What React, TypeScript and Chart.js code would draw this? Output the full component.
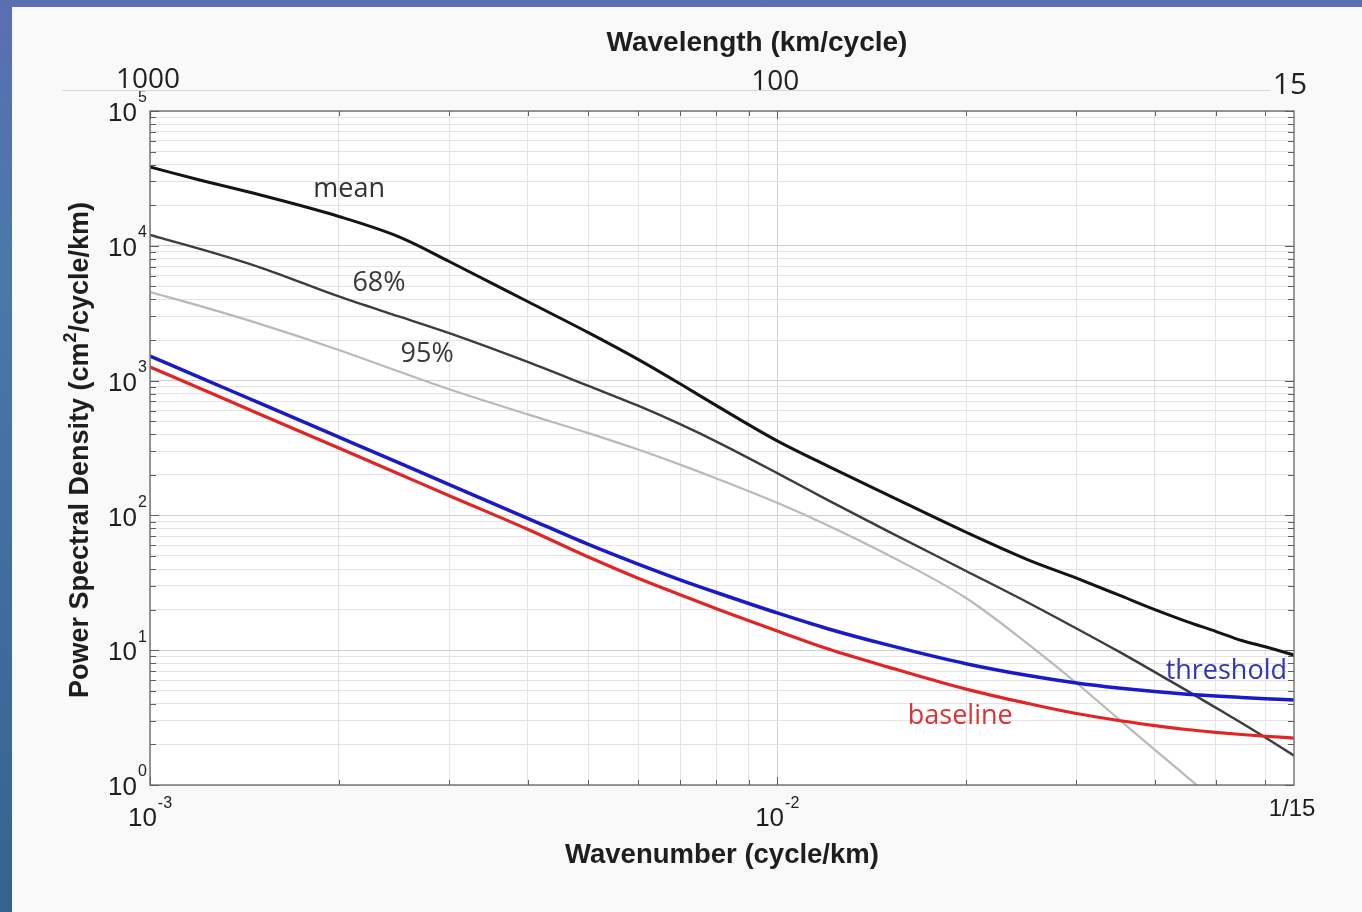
import React, { useEffect, useRef } from "react";
import { Chart, registerables } from "chart.js";

Chart.register(...registerables);

const W = 1362;
const H = 912;

// ---- data ----
const wavenumbers = [
  0.001, 0.0012, 0.0015, 0.002, 0.0025, 0.003, 0.004, 0.005, 0.006, 0.007, 0.008, 0.01,
  0.012, 0.015, 0.02, 0.025, 0.03, 0.035, 0.04, 0.045, 0.05, 0.055, 0.06, 0.06667,
];
const meanPSD = [
  38400, 30800, 23800, 16500, 11600, 7650, 3860, 2270, 1437, 947, 652, 357,
  234, 142, 75, 47.2, 34.2, 25.7, 20.0, 16.3, 13.8, 11.8, 10.6, 9.2,
];
const pct68PSD = [
  12030, 9500, 6900, 4210, 2980, 2250, 1376, 913, 651, 475, 353, 206,
  131, 76.5, 38.7, 22.8, 14.5, 9.8, 6.88, 5.01, 3.75, 2.88, 2.25, 1.65,
];
const pct95PSD = [
  4540, 3583, 2625, 1689, 1162, 863, 562, 408, 308, 238, 188, 124,
  84.9, 51.0, 24.4, 11.3, 5.71, 3.09, 1.82, 1.15, 0.761, 0.523, 0.371, 0.242,
];
const thresholdPSD = [
  1522, 1058, 677, 381, 244, 169, 95.2, 60.9, 43.5, 33.3, 26.8, 18.9,
  14.5, 10.95, 7.94, 6.51, 5.71, 5.24, 4.93, 4.72, 4.57, 4.46, 4.37, 4.27,
];
const baselinePSD = [
  1262, 877, 561, 316, 202, 140, 78.9, 49.1, 34.2, 25.8, 20.3, 13.9,
  10.3, 7.52, 5.14, 4.04, 3.39, 3.01, 2.76, 2.58, 2.46, 2.37, 2.30, 2.23,
];

const xMin = 0.001;
const xMax = 1 / 15;
const yMin = 1;
const yMax = 100000;
const yTickExponents = [0, 1, 2, 3, 4, 5];
const xTickExponents = [-3, -2];
const xEndTickLabel = "1/15";
const topWavelengths = [1000, 100, 15];
const topWavelengthLabels = ["1000", "100", "15"];

const curveLabels = [
  { text: "mean", k: 0.002077, psd: 26400, color: "#333333" },
  { text: "68%", k: 0.002318, psd: 5300, color: "#3a3a3a" },
  { text: "95%", k: 0.002766, psd: 1575, color: "#3a3a3a" },
  { text: "threshold", k: 0.052, psd: 7.0, color: "#3434b4" },
  { text: "baseline", k: 0.01958, psd: 3.25, color: "#d93434" },
];

const titleX = "Wavenumber (cycle/km)";
const titleTop = "Wavelength (km/cycle)";
const titleYParts = ["Power Spectral Density (cm", "2", "/cycle/km)"];

// ---- helpers ----
function gridValues(min: number, max: number): number[] {
  const out: number[] = [];
  const e0 = Math.floor(Math.log10(min) + 1e-9);
  const e1 = Math.ceil(Math.log10(max) - 1e-9);
  for (let e = e0; e <= e1; e++) {
    for (let m = 1; m <= 9; m++) {
      const v = m * Math.pow(10, e);
      if (v >= min * 0.9999 && v <= max * 1.0001) out.push(v);
    }
  }
  return out;
}
const xGrid = gridValues(xMin, xMax);
const yGrid = gridValues(yMin, yMax);
const isDecade = (v: number) => Math.abs(Math.log10(v) - Math.round(Math.log10(v))) < 1e-6;

const SANS = '"Liberation Sans", Arial, Helvetica, sans-serif';
const CAL = '"Open Sans", "Noto Sans", sans-serif';
const TXT = "#1e1e1e";

const decorPlugin = {
  id: "psdDecor",
  beforeDraw(chart: any) {
    const { ctx, chartArea: a } = chart;
    ctx.save();
    ctx.fillStyle = "#ffffff";
    ctx.fillRect(a.left, a.top, a.right - a.left, a.bottom - a.top);
    ctx.restore();
  },
  afterDraw(chart: any) {
    const { ctx, chartArea: a } = chart;
    const xs = chart.scales.x;
    const ys = chart.scales.y;
    ctx.save();

    // frame
    ctx.strokeStyle = "#7a7a7a";
    ctx.lineWidth = 1.5;
    ctx.strokeRect(a.left, a.top, a.right - a.left, a.bottom - a.top);

    // inward tick marks on all four sides
    ctx.strokeStyle = "#5e5e5e";
    ctx.lineWidth = 1;
    ctx.beginPath();
    for (const v of xGrid) {
      const px = Math.round(xs.getPixelForValue(v)) + 0.5;
      const len = isDecade(v) ? 8 : 5;
      ctx.moveTo(px, a.bottom);
      ctx.lineTo(px, a.bottom - len);
      ctx.moveTo(px, a.top);
      ctx.lineTo(px, a.top + len);
    }
    for (const v of yGrid) {
      const py = Math.round(ys.getPixelForValue(v)) + 0.5;
      const len = isDecade(v) ? 9 : 6;
      ctx.moveTo(a.left, py);
      ctx.lineTo(a.left + len, py);
      ctx.moveTo(a.right, py);
      ctx.lineTo(a.right - len, py);
    }
    ctx.stroke();

    // y tick labels 10^n
    ctx.fillStyle = TXT;
    ctx.textBaseline = "middle";
    for (const e of yTickExponents) {
      const py = ys.getPixelForValue(Math.pow(10, e));
      ctx.font = `26px ${SANS}`;
      ctx.textAlign = "right";
      ctx.fillText("10", a.left - 13, py + 3);
      ctx.font = `16px ${SANS}`;
      ctx.textAlign = "left";
      ctx.fillText(String(e), a.left - 12, py - 13);
    }

    // bottom tick labels
    for (const e of xTickExponents) {
      const px = xs.getPixelForValue(Math.pow(10, e));
      ctx.font = `26px ${SANS}`;
      const bw = ctx.measureText("10").width;
      ctx.font = `16px ${SANS}`;
      const ew = ctx.measureText(String(e)).width;
      const start = px - (bw + 1 + ew) / 2;
      ctx.textAlign = "left";
      ctx.font = `26px ${SANS}`;
      ctx.fillText("10", start, a.bottom + 34);
      ctx.font = `16px ${SANS}`;
      ctx.fillText(String(e), start + bw + 1, a.bottom + 19);
    }
    ctx.font = `24px ${SANS}`;
    ctx.textAlign = "center";
    ctx.fillText(xEndTickLabel, xs.getPixelForValue(xMax) - 2, a.bottom + 24);

    // top (wavelength) axis line and labels
    ctx.strokeStyle = "#d6d6d6";
    ctx.lineWidth = 1;
    ctx.beginPath();
    ctx.moveTo(62, 90.5);
    ctx.lineTo(1270, 90.5);
    ctx.stroke();
    ctx.fillStyle = "#222222";
    ctx.textAlign = "center";
    topWavelengths.forEach((wl, i) => {
      const px = xs.getPixelForValue(1 / wl);
      const big = i === topWavelengths.length - 1;
      ctx.font = `${big ? 30 : 28}px ${CAL}`;
      const dy = i === 0 ? -31 : i === 1 ? -29 : -26;
      ctx.fillText(topWavelengthLabels[i], px + (i === 0 ? -2 : big ? -4 : -2), a.top + dy);
    });

    // axis titles
    ctx.fillStyle = TXT;
    ctx.textAlign = "center";
    ctx.font = `bold 28px ${SANS}`;
    ctx.fillText(titleTop, 757, 43);
    ctx.font = `bold 27.5px ${SANS}`;
    ctx.fillText(titleX, 722, 855);

    // y title, rotated, with superscript
    ctx.save();
    ctx.translate(81, 450);
    ctx.rotate(-Math.PI / 2);
    ctx.font = `bold 27px ${SANS}`;
    const w0 = ctx.measureText(titleYParts[0]).width;
    const w2 = ctx.measureText(titleYParts[2]).width;
    ctx.font = `bold 18px ${SANS}`;
    const w1 = ctx.measureText(titleYParts[1]).width;
    let sx = -(w0 + w1 + w2) / 2;
    ctx.textAlign = "left";
    ctx.font = `bold 27px ${SANS}`;
    ctx.fillText(titleYParts[0], sx, 0);
    sx += w0;
    ctx.font = `bold 18px ${SANS}`;
    ctx.fillText(titleYParts[1], sx, -10);
    sx += w1;
    ctx.font = `bold 27px ${SANS}`;
    ctx.fillText(titleYParts[2], sx, 0);
    ctx.restore();

    // curve labels
    ctx.font = `27px ${CAL}`;
    ctx.textAlign = "center";
    ctx.textBaseline = "middle";
    for (const l of curveLabels) {
      ctx.fillStyle = l.color;
      ctx.fillText(l.text, xs.getPixelForValue(l.k), ys.getPixelForValue(l.psd));
    }
    ctx.restore();
  },
};

function series(values: number[]) {
  return wavenumbers.map((k, i) => ({ x: k, y: values[i] }));
}

export default function App() {
  const canvasRef = useRef<HTMLCanvasElement | null>(null);

  useEffect(() => {
    const canvas = canvasRef.current;
    if (!canvas) return;
    const common = {
      pointRadius: 0,
      fill: false,
      cubicInterpolationMode: "monotone" as const,
    };
    const chart = new Chart(canvas, {
      type: "line",
      data: {
        datasets: [
          { ...common, label: "threshold", data: series(thresholdPSD), borderColor: "#1a1ac6", borderWidth: 3.5 },
          { ...common, label: "baseline", data: series(baselinePSD), borderColor: "#e22424", borderWidth: 3.2 },
          { ...common, label: "mean", data: series(meanPSD), borderColor: "#141414", borderWidth: 3 },
          { ...common, label: "68%", data: series(pct68PSD), borderColor: "#3c3c3c", borderWidth: 2.4 },
          { ...common, label: "95%", data: series(pct95PSD), borderColor: "#b9b9b9", borderWidth: 2.2 },
        ],
      },
      options: {
        animation: false,
        responsive: false,
        devicePixelRatio: 1,
        parsing: false as any,
        normalized: true,
        layout: { padding: { left: 150, right: 68, top: 111, bottom: 127 } },
        plugins: { legend: { display: false }, tooltip: { enabled: false } },
        events: [],
        scales: {
          x: {
            type: "logarithmic",
            min: xMin,
            max: xMax,
            ticks: { display: false },
            border: { display: false },
            grid: {
              drawTicks: false,
              lineWidth: 1,
              color: (c: any) => (c.tick && isDecade(c.tick.value) ? "#cfcfcf" : "#e4e4e4"),
            },
            afterBuildTicks: (scale: any) => {
              scale.ticks = xGrid.map((v) => ({ value: v }));
            },
          },
          y: {
            type: "logarithmic",
            min: yMin,
            max: yMax,
            ticks: { display: false },
            border: { display: false },
            grid: {
              drawTicks: false,
              lineWidth: 1,
              color: (c: any) => (c.tick && isDecade(c.tick.value) ? "#cfcfcf" : "#e4e4e4"),
            },
            afterBuildTicks: (scale: any) => {
              scale.ticks = yGrid.map((v) => ({ value: v }));
            },
          },
        },
      } as any,
      plugins: [decorPlugin],
    });
    return () => chart.destroy();
  }, []);

  return (
    <div
      style={{
        position: "fixed",
        left: 0,
        top: 0,
        width: W,
        height: H,
        overflow: "hidden",
        background: "linear-gradient(180deg, #5a6fb2 0%, #4a78a8 30%, #3d6c9c 70%, #36628f 100%)",
      }}
    >
      <div
        style={{
          position: "absolute",
          left: 12,
          top: 7,
          right: 0,
          bottom: 0,
          background: "#f9f9f9",
        }}
      />
      <canvas
        ref={canvasRef}
        width={W}
        height={H}
        style={{ position: "absolute", left: 0, top: 0, width: W, height: H, display: "block" }}
      />
    </div>
  );
}
